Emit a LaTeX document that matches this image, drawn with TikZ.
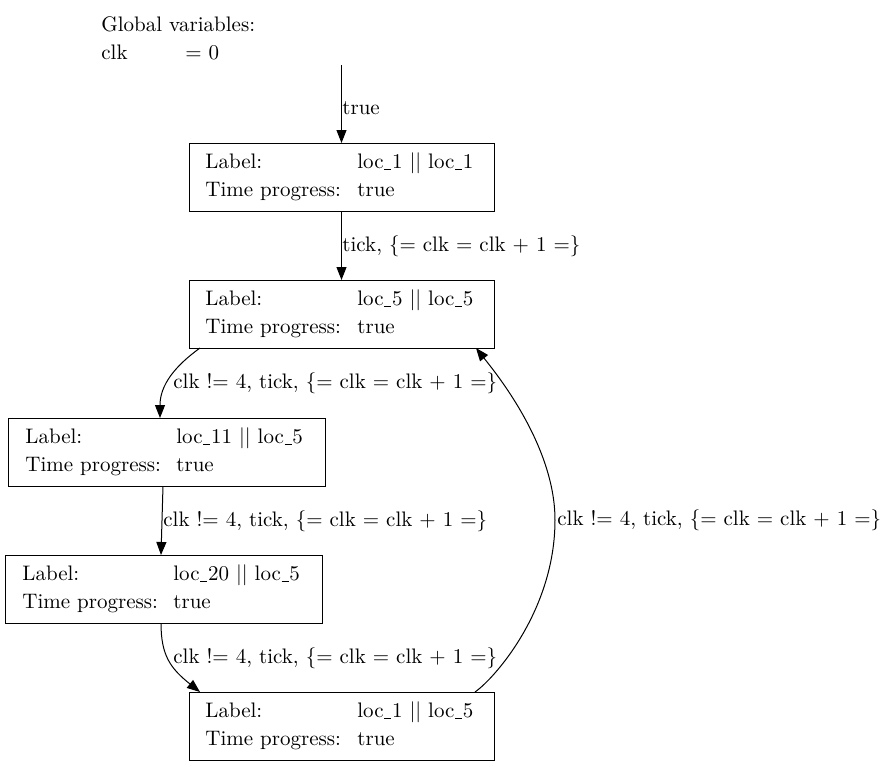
\documentclass[tikz,border=0pt]{standalone}
\usetikzlibrary{arrows.meta,calc}
\newcommand\us{\kern0.3pt\rule[-0.7pt]{3.6pt}{0.45pt}\kern0.3pt}
\begin{document}
\begin{tikzpicture}[x=0.5pt,y=-0.5pt,
  font=\fontsize{10.5}{12.6}\selectfont,
  box/.style={draw, line width=0.5pt, rectangle, inner sep=0pt, outer sep=0pt, minimum height=34pt},
  txt/.style={anchor=base west, inner sep=0pt},
  lbl/.style={anchor=base west, inner sep=0pt},
  edge/.style={draw, line width=0.5pt, -{Triangle[length=6.5pt,width=5pt]}}]
\useasboundingbox (0,0) rectangle (885,767);

% global variables
\node[txt] (gv) at (101,31) {Global variables:};
\node[txt] (gclk) at (101,59) {clk};
\node[txt] (gval) at (185,59) {= 0};

% boxes
\node[box, minimum width=152.5pt] (b1) at (341.5,177) {};
\node[txt] (b1l) at (205,168) {Label:};
\node[txt] (b1v) at (357,168) {loc\us1 || loc\us1};
\node[txt] (b1t) at (205,196) {Time progress:};
\node[txt] (b1p) at (357,196) {true};

\node[box, minimum width=152.5pt] (b2) at (341.5,314) {};
\node[txt] (b2l) at (205,305) {Label:};
\node[txt] (b2v) at (357,305) {loc\us5 || loc\us5};
\node[txt] (b2t) at (205,333) {Time progress:};
\node[txt] (b2p) at (357,333) {true};

\node[box, minimum width=158.5pt] (b3) at (166.5,452) {};
\node[txt] (b3l) at (25,443) {Label:};
\node[txt] (b3v) at (176,443) {loc\us11 || loc\us5};
\node[txt] (b3t) at (25,471) {Time progress:};
\node[txt] (b3p) at (176,471) {true};

\node[box, minimum width=158.5pt] (b4) at (163.5,589) {};
\node[txt] (b4l) at (22,580) {Label:};
\node[txt] (b4v) at (173,580) {loc\us20 || loc\us5};
\node[txt] (b4t) at (22,608) {Time progress:};
\node[txt] (b4p) at (173,608) {true};

\node[box, minimum width=152.5pt] (b5) at (341.5,726) {};
\node[txt] (b5l) at (205,717) {Label:};
\node[txt] (b5v) at (357,717) {loc\us1 || loc\us5};
\node[txt] (b5t) at (205,745) {Time progress:};
\node[txt] (b5p) at (357,745) {true};

% edges
\coordinate (init) at (341.5,65);
\path[edge] (init) -- (b1.north);
\node[lbl] (e0) at (342,114) {true};

\path[edge] (b1.south) -- (b2.north);
\node[lbl] (e1) at (342,251) {tick, \{= clk = clk + 1 =\}};

\path[edge] ($(b2.south west)+(11,0)$) .. controls (175,366) and (160,385) .. ($(b3.north west)+(152,0)$);
\node[lbl] (e2) at (173,388) {clk != 4, tick, \{= clk = clk + 1 =\}};

\path[edge] ($(b3.south west)+(155,0)$) -- ($(b4.north west)+(156,0)$);
\node[lbl] (e3) at (163,526) {clk != 4, tick, \{= clk = clk + 1 =\}};

\path[edge] ($(b4.south west)+(156,0)$) .. controls (161,655) and (170,668) .. ($(b5.north west)+(11,0)$);
\node[lbl] (e4) at (173,663) {clk != 4, tick, \{= clk = clk + 1 =\}};

\coordinate (mid) at (555,520);
\path[edge] ($(b5.north east)+(-19,0)$) .. controls (495,678) and (555,610) .. (mid)
  .. controls (555,445) and (495,372) .. ($(b2.south east)+(-18,0)$);
\node[lbl] (e5) at (557,525) {clk != 4, tick, \{= clk = clk + 1 =\}};
\end{tikzpicture}
\end{document}
